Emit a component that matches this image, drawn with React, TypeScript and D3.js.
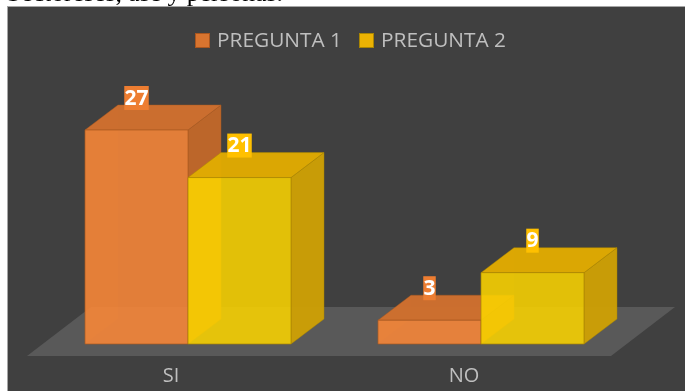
import React from "react";
import * as d3 from "d3";

const categories = ["SI", "NO"];
const seriesNames = ["PREGUNTA 1", "PREGUNTA 2"];
const pregunta1 = [27, 3];
const pregunta2 = [21, 9];
const seriesValues = [pregunta1, pregunta2];

const W = 685;
const H = 391;
const FONT = "'Open Sans', sans-serif";

type Skin = { front: string; top: string; side: string; edge: string; label: string; swatch: string; swatchEdge: string };
const skins: Skin[] = [
  { front: "#FB8838", top: "#CF6F2E", side: "#C26829", edge: "#A9581F", label: "#ED7D31", swatch: "#D8742F", swatchEdge: "#A9561F" },
  { front: "#FBD500", top: "#E0AA02", side: "#CFA004", edge: "#A98503", label: "#FFC000", swatch: "#EBB203", swatchEdge: "#A98503" },
];

// Oblique projection of the 3D columns
const DEPTH_X = 33;
const DEPTH_Y = -25;
const BASE_Y = 344;

const x0 = d3.scaleBand<string>().domain(categories).range([26.5, 612.5]);
const barWidth = 103;
const y = d3.scaleLinear().domain([0, 27]).range([BASE_Y, 130]);

const poly = (pts: [number, number][]) => d3.line()(pts) + "Z";

function Column({ x, value, skin }: { x: number; value: number; skin: Skin }) {
  const top = y(value);
  const r = x + barWidth;
  const dx = DEPTH_X;
  const dy = DEPTH_Y;
  const stroke = { stroke: skin.edge, strokeWidth: 1 };
  return (
    <g>
      {/* faces hidden behind the front, faintly visible through it */}
      <path d={poly([[x, BASE_Y], [x + dx, BASE_Y + dy], [x + dx, top + dy], [x, top]])} fill={skin.side} opacity={0.22} />
      <path d={poly([[x + dx, BASE_Y + dy], [r + dx, BASE_Y + dy], [r + dx, top + dy], [x + dx, top + dy]])} fill={skin.side} opacity={0.12} />
      <path d={poly([[x, BASE_Y], [r, BASE_Y], [r + dx, BASE_Y + dy], [x + dx, BASE_Y + dy]])} fill={skin.side} opacity={0.12} />
      <path d={poly([[r, BASE_Y], [r + dx, BASE_Y + dy], [r + dx, top + dy], [r, top]])} fill={skin.side} fillOpacity={0.95} {...stroke} strokeOpacity={0.45} />
      <path d={poly([[x, top], [r, top], [r + dx, top + dy], [x + dx, top + dy]])} fill={skin.top} fillOpacity={0.97} {...stroke} strokeOpacity={0.45} />
      <path d={poly([[x, BASE_Y], [r, BASE_Y], [r, top], [x, top]])} fill={skin.front} fillOpacity={0.85} {...stroke} strokeOpacity={0.7} />
    </g>
  );
}

export default function App() {
  const groupStart = (c: string) => (x0(c) as number) + x0.bandwidth() / 2 - barWidth + 15;
  return (
    <svg width={W} height={H} style={{ position: "fixed", left: 0, top: 0 }} fontFamily={FONT}>
      <rect width={W} height={H} fill="#fff" />
      <text x={7} y={1} fontFamily="'Liberation Serif', serif" fontSize={24} textLength={276} lengthAdjust="spacingAndGlyphs" fill="#000">
        Sectoreses, ase y personas.
      </text>
      <rect x={7.5} y={6.5} width={W} height={H} fill="#404040" stroke="#A6A6A6" strokeWidth={1} />

      {/* floor */}
      <path d={poly([[27, 356], [611, 356], [675, 307], [91, 307]])} fill="#595959" />

      {categories.map((c, ci) =>
        seriesValues.map((vals, si) => (
          <Column key={c + si} x={groupStart(c) + si * barWidth} value={vals[ci]} skin={skins[si]} />
        ))
      )}

      {/* data labels sit on a series-coloured chip above each column */}
      {categories.map((c, ci) =>
        seriesValues.map((vals, si) => {
          const cx = groupStart(c) + si * barWidth + barWidth / 2;
          const v = vals[ci];
          const w = v >= 10 ? 24.5 : 12.5;
          const bottom = y(v) - 20;
          return (
            <g key={c + si}>
              <rect x={cx - w / 2} y={bottom - 24} width={w} height={24} fill={skins[si].label} />
              <text x={cx} y={bottom - 5.5} textAnchor="middle" fontSize={21} fontWeight={700} fill="#fff">
                {v}
              </text>
            </g>
          );
        })
      )}

      {/* category labels */}
      {categories.map((c) => (
        <text key={c} x={(x0(c) as number) + x0.bandwidth() / 2 - 2} y={382} textAnchor="middle" fontSize={20} fill="#BFBFBF">
          {c}
        </text>
      ))}

      {/* legend */}
      {seriesNames.map((n, i) => (
        <g key={n} transform={`translate(${195 + i * 164},0)`}>
          <rect x={0.5} y={33.5} width={14} height={14} fill={skins[i].swatch} stroke={skins[i].swatchEdge} />
          <text x={22} y={46.5} fontSize={20} fill="#BFBFBF" textLength={125} lengthAdjust="spacingAndGlyphs">
            {n}
          </text>
        </g>
      ))}
    </svg>
  );
}
